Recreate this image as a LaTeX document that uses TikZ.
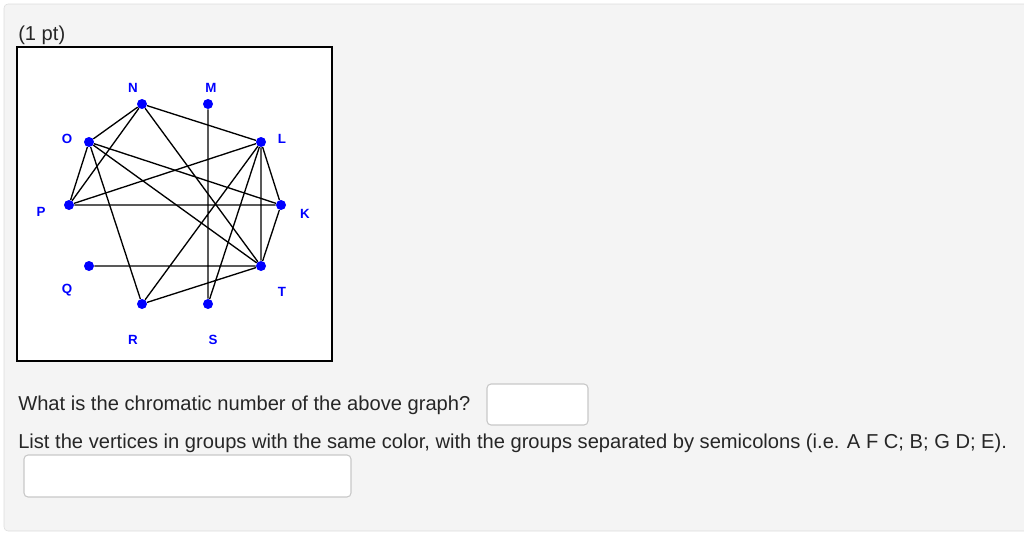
\documentclass[tikz,border=0pt]{standalone}
\usepackage{fontspec}
\setmainfont{Liberation Sans}
\usetikzlibrary{calc}

\definecolor{panelgray}{HTML}{F4F4F4}
\definecolor{panelline}{HTML}{DCDCDC}
\definecolor{boxline}{HTML}{C8C8C8}
\definecolor{vblue}{HTML}{0000FF}

\tikzset{
  vertex/.style={draw=none,shape=circle,fill=vblue,inner sep=0pt,minimum size=7.5pt},
  vlabel/.style={text=vblue,font=\fontsize{10}{10}\selectfont\bfseries,inner sep=0pt},
  question/.style={anchor=base west,inner sep=0pt,font=\fontsize{15.1}{17}\selectfont,text=black!85},
  answerbox/.style={draw=boxline,fill=white,rounded corners=3pt,line width=0.8pt}
}

\begin{document}
\begin{tikzpicture}[x=0.75pt,y=-0.75pt]
  \useasboundingbox (0,0) rectangle (1024,533);
  \draw[panelline,fill=panelgray,rounded corners=3pt] (4,4) rectangle (1030,531);
  \node[question] (pts) at (18,40) {(1 pt)};
  \draw[fill=white,line width=0.9pt] (17,47) rectangle (332,361);
  % graph
  \path (142,104) node[vertex] (N) {} (208,104) node[vertex] (M) {}
  (89,142) node[vertex] (O) {} (261,142) node[vertex] (L) {}
  (69,205) node[vertex] (P) {} (281,205) node[vertex] (K) {}
  (89,266) node[vertex] (Q) {} (261,266) node[vertex] (T) {}
  (142,304) node[vertex] (R) {} (208,304) node[vertex] (S) {};
  \path (133,88) node[vlabel] (lN) {N} (211,88) node[vlabel] (lM) {M}
  (67,139) node[vlabel] (lO) {O} (282,139) node[vlabel] (lL) {L}
  (41,212) node[vlabel] (lP) {P} (305,214) node[vlabel] (lK) {K}
  (67,290) node[vlabel] (lQ) {Q} (282,292) node[vlabel] (lT) {T}
  (133,340) node[vlabel] (lR) {R} (213,340) node[vlabel] (lS) {S};
  \begin{scope}[line width=1pt]
  \draw (N) -- (O) -- (P) -- (N) -- (L) -- (P) -- (K) -- (L) -- (T) -- (K);
  \draw (M) -- (S) -- (L) -- (R) -- (T) -- (Q);
  \draw (N) -- (T) -- (O) -- (K);
  \draw (O) -- (R);
  \end{scope}
  % questions
  \node[question] (q1) at (18,410) {What is the chromatic number of the above graph?};
  \draw[answerbox] (487,384) rectangle (588,425);
  \node[question] (q2) at (18,448) {List the vertices in groups with the same color, with the groups separated by semicolons (i.e. A F C; B; G D; E).};
  \draw[answerbox] (24,455) rectangle (351,497);
\end{tikzpicture}
\end{document}
